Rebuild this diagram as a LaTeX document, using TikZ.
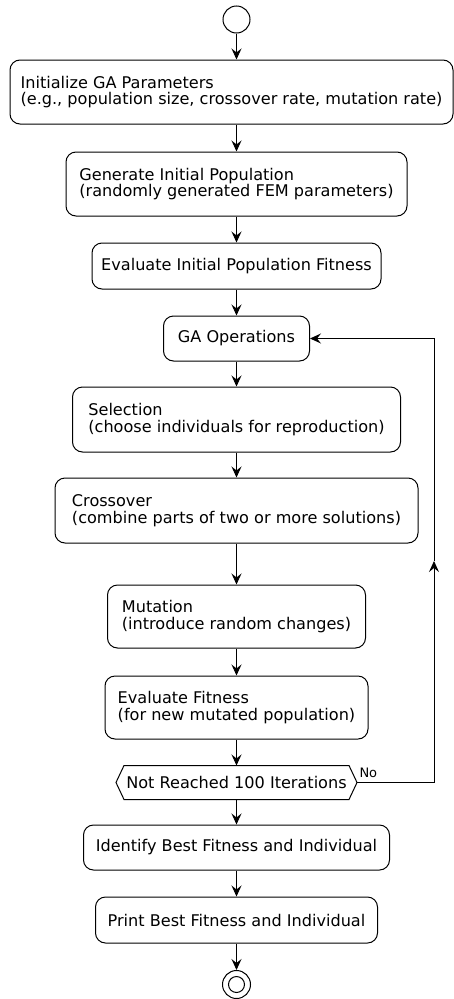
\documentclass[tikz,border=0pt]{standalone}
\usepackage{fontspec}
\setmainfont{DejaVu Sans}
\usepackage{tikz}
\usetikzlibrary{arrows.meta}
\tikzset{act/.style={rectangle,rounded corners=10pt,draw,line width=1pt,align=left,inner sep=0pt,font=\fontsize{16.1}{16.5}\selectfont}}
\tikzset{ring/.style={circle,draw,line width=1pt,inner sep=0pt}}

\begin{document}
\begin{tikzpicture}[>={Stealth[length=11pt,width=10pt,inset=4pt]},x=1pt,y=-1pt,line width=1pt]
    \useasboundingbox (0,0) rectangle (454,999);

    \node[ring,minimum size=27pt] (start) at (236.5,19.5) {};
    \node[act,minimum width=443pt,minimum height=64pt] (init) at (231.5,92) {Initialize GA Parameters\\(e.g., population size, crossover rate, mutation rate)};
    \node[act,minimum width=341pt,minimum height=64pt] (gen) at (236.5,184) {Generate Initial Population\\(randomly generated FEM parameters)};
    \node[act,minimum width=289pt,minimum height=46pt] (evini) at (236.5,266) {Evaluate Initial Population Fitness};
    \node[act,minimum width=146pt,minimum height=45pt] (gaops) at (236.5,338.5) {GA Operations};
    \node[act,minimum width=328pt,minimum height=65pt] (sel) at (236.5,419.5) {Selection\\(choose individuals for reproduction)};
    \node[act,minimum width=363pt,minimum height=65pt] (cross) at (236.5,510.5) {Crossover\\(combine parts of two or more solutions)};
    \node[act,minimum width=258pt,minimum height=63pt] (mut) at (236.5,616.5) {Mutation\\(introduce random changes)};
    \node[act,minimum width=263pt,minimum height=63pt] (evfit) at (236.5,707.5) {Evaluate Fitness\\(for new mutated population)};
    \node[inner sep=0pt,minimum width=240pt,minimum height=33pt,font=\fontsize{16.1}{16.5}\selectfont] (chk) at (236.5,782.5) {Not Reached 100 Iterations};
    \node[act,minimum width=306pt,minimum height=45pt] (ident) at (236.5,847.5) {Identify Best Fitness and Individual};
    \node[act,minimum width=282pt,minimum height=46pt] (print) at (236.5,920) {Print Best Fitness and Individual};
    \node[ring,minimum size=28pt] (stop) at (236.5,984.5) {};
    \node[ring,minimum size=16pt] (stopin) at (stop) {};

    % hexagon round the check
    \draw (chk.west) -- ([xshift=8pt]chk.north west) -- ([xshift=-8pt]chk.north east) -- (chk.east)
        -- ([xshift=-8pt]chk.south east) -- ([xshift=8pt]chk.south west) -- cycle;
    \node[anchor=base west,inner sep=0pt,font=\fontsize{13}{14}\selectfont] (no) at ([xshift=2pt,yshift=5pt]chk.east) {No};

    \draw [->] (start) to (start |- init.north);
    \draw [->] (start |- init.south) to (gen);
    \draw [->] (gen) to (evini);
    \draw [->] (evini) to (gaops);
    \draw [->] (gaops) to (sel);
    \draw [->] (sel) to (cross);
    \draw [->] (cross) to (mut);
    \draw [->] (mut) to (evfit);
    \draw [->] (evfit) to (chk);
    \draw [->] (chk) to (ident);
    \draw [->] (ident) to (print);
    \draw [->] (print) to (stop);

    % loop back
    \coordinate (lb) at (434,782.5);
    \coordinate (lm) at (434,561);
    \coordinate (lt) at (434,338.5);
    \draw [->] (chk.east) -- (lb) -- (lm);
    \draw [->] (lm) -- (lt) -- (gaops.east);
\end{tikzpicture}
\end{document}
